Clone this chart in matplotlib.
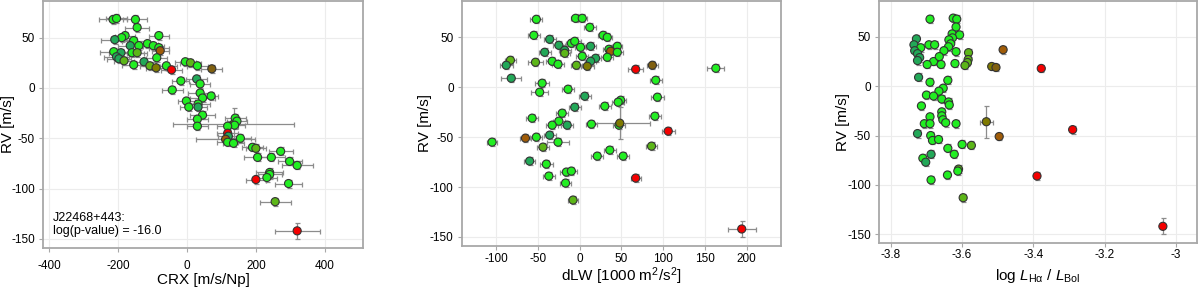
import matplotlib
matplotlib.use('Agg')
import matplotlib.pyplot as plt
from matplotlib.ticker import FuncFormatter

plt.rcParams['font.family'] = ['Liberation Sans', 'DejaVu Sans']
plt.rcParams['axes.unicode_minus'] = False
plt.rcParams['mathtext.fontset'] = 'custom'
plt.rcParams['mathtext.rm'] = 'Liberation Sans'
plt.rcParams['mathtext.it'] = 'Liberation Sans:italic'

# colour codes -> colours
palette = {'g': '#22ee22', 't': '#22a858', 'y': '#5cb618', 'o': '#7f7a00',
           'd': '#806010', 'b': '#a05c08', 'r': '#f40000'}

# ---- panel 1: RV vs CRX
crx = [-215, -205, -150, -145, -82, -180, -190, -210, -155, -140,
       -165, -115, -98, -82, -78, -213, -192, -160, -145, -205,
       -198, -183, -125, -88, -155, -108, -90, -60, -45, -5,
       10, 30, 72, -18, 28, 38, -43, 38, 70, 45,
       -2, 5, 32, 32, 45, 30, 30, 135, 140, 145,
       138, 118, 118, 120, 112, 118, 135, 155, 190, 200,
       205, 245, 272, 298, 320, 240, 240, 232, 200, 295,
       256, 320]
rv1 = [68, 69, 68, 60, 52, 52, 50, 48, 47, 42,
       42, 44, 42, 40, 37, 36, 35, 35, 35, 31,
       29, 27, 26, 30, 23, 22, 20, 22, 18, 26,
       25, 22, 19, 7, 9, 4, -2, -5, -8, -10,
       -13, -19, -16, -19, -27, -31, -38, -36, -30, -33,
       -37, -38, -45, -48, -51, -54, -55, -50, -59, -60,
       -69, -69, -63, -73, -77, -84, -86, -89, -91, -95,
       -113, -142]
crx_err = [40, 30, 35, 35, 30, 30, 30, 40, 35, 30,
           35, 30, 30, 30, 25, 40, 35, 35, 30, 35,
           35, 30, 35, 30, 35, 30, 30, 30, 30, 30,
           30, 30, 30, 25, 30, 30, 30, 35, 20, 35,
           25, 25, 35, 25, 35, 30, 30, 175, 30, 30,
           30, 30, 30, 30, 85, 30, 30, 30, 30, 30,
           40, 40, 35, 35, 45, 40, 35, 30, 30, 40,
           45, 65]
rv1_err = [4] * 47 + [16] + [4] * 23 + [8]
col1 = ''.join(['gggggggtgg', 'tgggbgtgyt', 'tytggyogrg', 'ygdgtggggg',
                'gggtgggogg', 'ggrtbggggy', 'ggggggggrg', 'yr'])

# ---- panel 2: RV vs dLW
dlw = [-52, -5, 3, 12, -55, 28, 33, -36, -25, -10,
       -6, 13, 45, 1, 35, 37, -42, -18, -18, 45,
       3, 33, 19, 13, -83, -88, -53, -33, -26, -4,
       9, 67, 87, 163, -82, -45, 91, -48, -14, 6,
       93, 49, 46, 30, -6, -21, 90, -57, -25, -33,
       -15, 14, 47, 48, -65, -52, -36, -105, -26, -44,
       106, 86, 36, 21, 52, -60, -40, -37, -16, -10,
       -17, 67, -8, 194]
rv2 = [68, 69, 69, 60, 52, 52, 50, 48, 42, 44,
       46, 41, 41, 40, 38, 36, 35, 37, 34, 35,
       31, 30, 29, 26, 27, 22, 25, 26, 23, 22,
       21, 18, 22, 19, 9, 4, 7, -5, -2, -9,
       -10, -13, -15, -19, -20, -26, -29, -31, -34, -38,
       -38, -37, -38, -36, -51, -50, -48, -55, -55, -60,
       -44, -59, -63, -69, -69, -74, -77, -89, -85, -84,
       -96, -91, -113, -142]
dlw_err = [7, 6, 6, 7, 7, 6, 6, 7, 7, 7,
           7, 7, 6, 7, 7, 6, 7, 7, 6, 7,
           7, 7, 7, 7, 7, 8, 9, 7, 7, 7,
           8, 9, 7, 10, 12, 8, 7, 10, 7, 7,
           8, 7, 7, 7, 7, 7, 7, 7, 7, 7,
           7, 7, 7, 36, 7, 7, 7, 6, 13, 7,
           8, 7, 7, 7, 7, 7, 8, 7, 8, 7,
           7, 6, 6, 17]
rv2_err = [4] * 53 + [16] + [4] * 19 + [8]
col2 = ''.join(['gggggggttg', 'gtgggbttyg', 'ggttytyggy', 'ordgtggggt',
                'ggggtggggg', 'tggobgtggy', 'rygggtgggg', 'gryr'])

# ---- panel 3: RV vs log L_Halpha / L_bol
lha = [-3.69, -3.625, -3.615, -3.617, -3.628, -3.607, -3.627, -3.637, -3.632, -3.728,
       -3.735, -3.693, -3.677, -3.716, -3.638, -3.733, -3.725, -3.651, -3.617, -3.582,
       -3.719, -3.725, -3.68, -3.664, -3.698, -3.659, -3.62, -3.583, -3.585, -3.592,
       -3.517, -3.505, -3.485, -3.378, -3.722, -3.69, -3.64, -3.653, -3.665, -3.70,
       -3.68, -3.657, -3.638, -3.636, -3.714, -3.657, -3.657, -3.69, -3.654, -3.706,
       -3.69, -3.646, -3.617, -3.532, -3.725, -3.688, -3.683, -3.666, -3.496, -3.29,
       -3.64, -3.60, -3.574, -3.622, -3.687, -3.71, -3.702, -3.61, -3.612, -3.641,
       -3.687, -3.39, -3.597, -3.037]
rv3 = [68, 69, 68, 60, 53, 52, 49, 47, 43, 48,
       42, 42, 42, 39, 40, 36, 33, 36, 35, 34,
       29, 26, 25, 30, 22, 22, 23, 27, 24, 21,
       20, 19, 37, 18, 9, 4, 6, -2, -5, -9,
       -10, -13, -16, -19, -20, -26, -30, -31, -34, -38,
       -38, -37, -38, -36, -48, -50, -55, -54, -51, -44,
       -63, -59, -60, -69, -69, -73, -77, -84, -86, -90,
       -95, -91, -113, -142]
lha_err = [0.0] * 53 + [0.018] + [0.0] * 20
rv3_err = [4] * 53 + [16] + [4] * 19 + [8]
col3 = ''.join(['gggggggggt', 'tggggttggy', 'ttgggggyyy', 'odbrtggggg',
                'gggggggggg', 'gggotgggbr', 'ggygtgtygg', 'gryr'])

panels = [
    (crx, rv1, crx_err, rv1_err, col1),
    (dlw, rv2, dlw_err, rv2_err, col2),
    (lha, rv3, lha_err, rv3_err, col3),
]
xlabels = ['CRX [m/s/Np]', 'dLW [1000 m$^2$/s$^2$]',
           r'log $L_{\mathrm{H\alpha}}$ / $L_{\mathrm{Bol}}$']
xticks = [[-400, -200, 0, 200, 400],
          [-100, -50, 0, 50, 100, 150, 200],
          [-3.8, -3.6, -3.4, -3.2, -3.0]]
xlims = [(-418, 512), (-141, 241), (-3.832, -2.942)]
boxes = [(0.036, 0.136, 0.2667, 0.861),
         (0.385, 0.143, 0.2658, 0.854),
         (0.7328, 0.153, 0.2645, 0.844)]
xlabel_y = [-0.101, -0.08, -0.099]
ylabel_x = [-0.109, -0.116, -0.114]
xtick_pad = [6, 2, 1.5]

fig = plt.figure(figsize=(12, 2.87), dpi=100)
for i, (xs, ys, xe, ye, cs) in enumerate(panels):
    ax = fig.add_axes(boxes[i])
    ax.errorbar(xs, ys, xerr=xe, yerr=ye, fmt='none', ecolor='#8c8c8c',
                elinewidth=0.9, capsize=1.8, capthick=0.9, zorder=2)
    ax.scatter(xs, ys, s=34, c=[palette[c] for c in cs], edgecolors='#333333',
               linewidths=0.8, zorder=3)
    ax.set_xlim(xlims[i])
    ax.set_ylim(-159, 86.5)
    ax.set_xticks(xticks[i])
    ax.set_yticks([-150, -100, -50, 0, 50])
    ax.xaxis.set_major_formatter(FuncFormatter(lambda v, p: '%g' % v))
    ax.grid(True, color='#ececec', linewidth=0.8)
    ax.set_axisbelow(True)
    for s in ax.spines.values():
        s.set_color('#a8a8a8')
        s.set_linewidth(1.3)
    ax.tick_params(length=3, color='#a8a8a8', labelsize=8.5, pad=3)
    ax.tick_params(axis='x', pad=xtick_pad[i])
    ax.set_xlabel(xlabels[i], fontsize=11, va='top')
    ax.set_ylabel('RV [m/s]', fontsize=11, va='center')
    ax.xaxis.set_label_coords(0.5, xlabel_y[i])
    ax.yaxis.set_label_coords(ylabel_x[i], 0.5)
    if i == 0:
        ax.text(0.03, 0.045, 'J22468+443:\nlog(p-value) = -16.0',
                transform=ax.transAxes, fontsize=9, va='bottom', ha='left',
                linespacing=1.1)

fig.savefig('out.png', dpi=100)
